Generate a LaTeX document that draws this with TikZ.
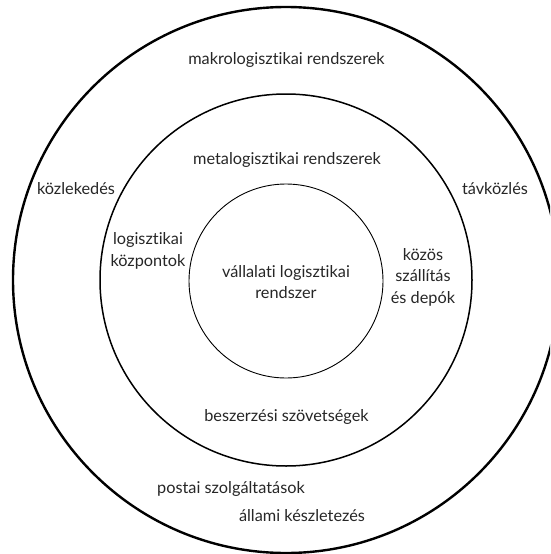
\documentclass[tikz,border=0pt]{standalone}
\usepackage{fontspec}
\setmainfont{Lato}[Ligatures={NoCommon}]
\begin{document}
\begin{tikzpicture}[x=1pt,y=-1pt,
  ring/.style={circle,draw=black,inner sep=0pt},
  lbl/.style={align=center,inner sep=0pt,font=\fontsize{16.3}{21.5}\selectfont,text=black!85}]
\useasboundingbox (0,0) rectangle (550,554);
\clip (0,0) rectangle (550,554);
\node[ring,line width=2.4pt,minimum size=546pt] (outer) at (286,280) {};
\node[ring,line width=1.5pt,minimum size=372pt] (middle) at (286,280) {};
\node[ring,line width=0.9pt,minimum size=194pt] (inner) at (286,281) {};
\node[lbl] (makro) at (286.5,60) {makrologisztikai rendszerek};
\node[lbl] (meta) at (287,160) {metalogisztikai rendszerek};
\node[lbl] (kozl) at (76,189) {közlekedés};
\node[lbl] (tav) at (495,189) {távközlés};
\node[lbl] (kozp) at (148,251) {logisztikai\\központok};
\node[lbl] (vall) at (286,282) {vállalati logisztikai\\rendszer};
\node[lbl] (kozos) at (423,277) {közös\\szállítás\\és depók};
\node[lbl] (besz) at (286.5,417) {beszerzési szövetségek};
\node[lbl] (post) at (231,489) {postai szolgáltatások};
\node[lbl] (allami) at (302,516) {állami készletezés};
\end{tikzpicture}
\end{document}
